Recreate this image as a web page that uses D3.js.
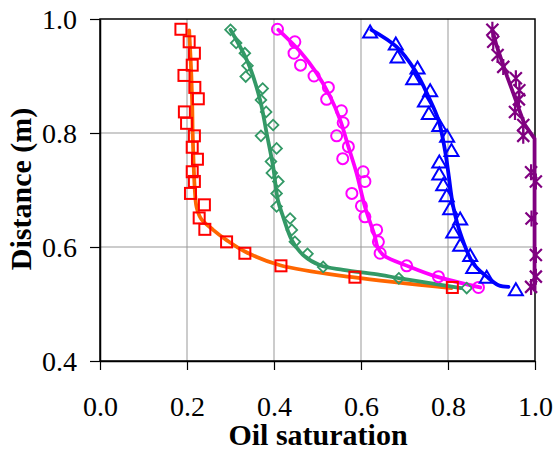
<!DOCTYPE html>
<html>
<head>
<meta charset="utf-8">
<script src="https://cdn.jsdelivr.net/npm/d3@7"></script>
<style>
body { margin: 0; background: #fff; }
text { font-family: "Liberation Serif", "Times New Roman", serif; }
</style>
</head>
<body>
<svg width="557" height="451"></svg>
<script>
// tick labels
var xTicks = [0, 0.2, 0.4, 0.6, 0.8, 1.0];
var yTicks = [0.4, 0.6, 0.8, 1.0];

// measured points (markers)
var sqX = [0.186,0.205,0.217,0.212,0.193,0.218,0.226,0.194,0.199,0.217,0.212,0.224,0.212,0.217,0.208,0.240,0.228,0.241,0.291,0.333,0.416,0.586,0.810];
var sqY = [0.982,0.960,0.940,0.919,0.901,0.880,0.860,0.837,0.817,0.795,0.775,0.754,0.732,0.715,0.694,0.674,0.651,0.631,0.609,0.589,0.567,0.547,0.529];

var diaX = [0.300,0.313,0.333,0.339,0.335,0.374,0.370,0.382,0.398,0.370,0.406,0.393,0.395,0.410,0.406,0.406,0.437,0.441,0.448,0.477,0.513,0.687,0.843];
var diaY = [0.981,0.958,0.940,0.918,0.899,0.878,0.858,0.837,0.814,0.795,0.773,0.750,0.730,0.715,0.694,0.671,0.650,0.630,0.609,0.588,0.565,0.545,0.528];

var cirX = [0.408,0.448,0.446,0.461,0.492,0.525,0.521,0.555,0.559,0.544,0.571,0.558,0.605,0.609,0.579,0.601,0.609,0.636,0.640,0.644,0.705,0.778,0.870];
var cirY = [0.982,0.960,0.940,0.919,0.900,0.880,0.859,0.839,0.818,0.795,0.776,0.755,0.732,0.715,0.694,0.672,0.653,0.630,0.609,0.589,0.567,0.548,0.529];

var triX = [0.621,0.680,0.684,0.730,0.720,0.759,0.747,0.756,0.780,0.798,0.808,0.780,0.780,0.789,0.797,0.805,0.828,0.812,0.828,0.851,0.858,0.889,0.956];
var triY = [0.978,0.957,0.934,0.915,0.896,0.875,0.857,0.835,0.814,0.795,0.770,0.750,0.729,0.710,0.691,0.668,0.650,0.627,0.604,0.586,0.565,0.548,0.526];

var starX = [0.902,0.904,0.914,0.927,0.956,0.964,0.963,0.954,0.973,0.973,0.991,1.002,0.992,1.002,1.002,0.991];
var starY = [0.981,0.960,0.937,0.916,0.896,0.875,0.859,0.837,0.814,0.795,0.731,0.715,0.650,0.586,0.548,0.530];

// fitted curves
var fitOrangeX = [0.205,0.207,0.210,0.212,0.213,0.215,0.218,0.222,0.232,0.260,0.291,0.333,0.414,0.580,0.808];
var fitOrangeY = [0.980,0.950,0.900,0.850,0.800,0.750,0.700,0.670,0.650,0.630,0.612,0.592,0.568,0.547,0.528];

var fitGreenX = [0.300,0.341,0.368,0.383,0.398,0.409,0.421,0.441,0.467,0.506,0.559,0.644,0.690,0.830];
var fitGreenY = [0.981,0.922,0.858,0.800,0.741,0.682,0.653,0.612,0.586,0.568,0.560,0.551,0.545,0.528];

var fitMagX = [0.410,0.460,0.498,0.529,0.552,0.571,0.590,0.609,0.632,0.638,0.651,0.713,0.774,0.874];
var fitMagY = [0.981,0.943,0.905,0.864,0.823,0.776,0.729,0.671,0.618,0.600,0.586,0.565,0.548,0.529];

var fitBlueX = [0.624,0.682,0.724,0.755,0.778,0.793,0.801,0.812,0.831,0.858,0.889,0.916,0.939];
var fitBlueY = [0.981,0.951,0.910,0.864,0.823,0.770,0.729,0.671,0.618,0.571,0.548,0.533,0.530];

var fitPurpleX = [0.902,0.911,0.923,0.936,0.950,0.963,0.976,0.999,0.999];
var fitPurpleY = [0.981,0.955,0.928,0.899,0.870,0.842,0.815,0.790,0.525];

var svg = d3.select("svg");
var pLeft = 100, pRight = 535, pTop = 19, pBottom = 361;

var x = d3.scaleLinear().domain([0, 1]).range([pLeft, pRight]);
var y = d3.scaleLinear().domain([0.4, 1]).range([pBottom, pTop]);

// grid
svg.append("g").selectAll("line").data(xTicks.slice(1, -1)).enter().append("line")
  .attr("x1", function(d){ return x(d); }).attr("x2", function(d){ return x(d); })
  .attr("y1", pTop).attr("y2", pBottom)
  .style("stroke", "#999").style("stroke-width", 1);
svg.append("g").selectAll("line").data(yTicks.slice(1, -1)).enter().append("line")
  .attr("y1", function(d){ return y(d); }).attr("y2", function(d){ return y(d); })
  .attr("x1", pLeft).attr("x2", pRight)
  .style("stroke", "#999").style("stroke-width", 1);

// frame
svg.append("rect").attr("x", pLeft).attr("y", pTop)
  .attr("width", pRight - pLeft).attr("height", pBottom - pTop)
  .style("fill", "none").style("stroke", "#000").style("stroke-width", 1.5);

// axes
var xAxis = svg.append("g").attr("transform", "translate(0," + pBottom + ")")
  .call(d3.axisBottom(x).tickValues(xTicks).tickSize(9).tickSizeOuter(0).tickPadding(26).tickFormat(d3.format(".1f")));
var yAxis = svg.append("g").attr("transform", "translate(" + pLeft + ",0)")
  .call(d3.axisLeft(y).tickValues(yTicks).tickSize(10).tickSizeOuter(0).tickPadding(13).tickFormat(d3.format(".1f")));
[xAxis, yAxis].forEach(function(a){
  a.select(".domain").style("stroke", "#000").style("stroke-width", 1.5);
  a.selectAll(".tick line").style("stroke", "#000").style("stroke-width", 1.2);
  a.selectAll("text").style("font-family", "'Liberation Serif', serif").style("font-size", "28px").style("fill", "#000");
});
yAxis.selectAll("text").attr("dy", "0.33em");

// axis titles
svg.append("text").attr("x", 318).attr("y", 445).attr("text-anchor", "middle")
  .style("font-size", "30px").style("font-weight", "bold").text("Oil saturation");
svg.append("text").attr("transform", "translate(31,189) rotate(-90)").attr("text-anchor", "middle")
  .style("font-size", "30px").style("font-weight", "bold").text("Distance (m)");

// fitted lines
var smooth = d3.line().x(function(d){ return x(d[0]); }).y(function(d){ return y(d[1]); })
  .curve(d3.curveCatmullRom.alpha(0.5));
var straight = d3.line().x(function(d){ return x(d[0]); }).y(function(d){ return y(d[1]); });
var fits = [
  [fitOrangeX, fitOrangeY, "#ff6600", smooth],
  [fitGreenX, fitGreenY, "#339966", smooth],
  [fitMagX, fitMagY, "#ff00ff", smooth],
  [fitBlueX, fitBlueY, "#0000ff", smooth],
  [fitPurpleX, fitPurpleY, "#800080", straight]
];
fits.forEach(function(f){
  svg.append("path").datum(d3.zip(f[0], f[1]))
    .attr("d", f[3])
    .style("fill", "none").style("stroke", f[2]).style("stroke-width", 3.8)
    .style("stroke-linejoin", "round").style("stroke-linecap", "round");
});

// markers
function pts(xs, ys) { return d3.zip(xs, ys); }

svg.append("g").selectAll("rect").data(pts(sqX, sqY)).enter().append("rect")
  .attr("x", function(d){ return x(d[0]) - 5.5; }).attr("y", function(d){ return y(d[1]) - 5.5; })
  .attr("width", 11).attr("height", 11)
  .style("fill", "none").style("stroke", "#ff0000").style("stroke-width", 2);

svg.append("g").selectAll("path").data(pts(diaX, diaY)).enter().append("path")
  .attr("d", d3.symbol().type(d3.symbolSquare2).size(72))
  .attr("transform", function(d){ return "translate(" + x(d[0]) + "," + y(d[1]) + ") rotate(45)"; })
  .style("fill", "none").style("stroke", "#339966").style("stroke-width", 1.8);

svg.append("g").selectAll("circle").data(pts(cirX, cirY)).enter().append("circle")
  .attr("cx", function(d){ return x(d[0]); }).attr("cy", function(d){ return y(d[1]); })
  .attr("r", 5.5)
  .style("fill", "none").style("stroke", "#ff00ff").style("stroke-width", 2);

svg.append("g").selectAll("path").data(pts(triX, triY)).enter().append("path")
  .attr("d", "M0,-6 L7,6 L-7,6 Z")
  .attr("transform", function(d){ return "translate(" + x(d[0]) + "," + y(d[1]) + ")"; })
  .style("fill", "none").style("stroke", "#0000ff").style("stroke-width", 2);

svg.append("g").selectAll("path").data(pts(starX, starY)).enter().append("path")
  .attr("d", "M-6,-6 L6,6 M-6,6 L6,-6 M0,-8 L0,8")
  .attr("transform", function(d){ return "translate(" + x(d[0]) + "," + y(d[1]) + ")"; })
  .style("fill", "none").style("stroke", "#800080").style("stroke-width", 2.2);
</script>
</body>
</html>
